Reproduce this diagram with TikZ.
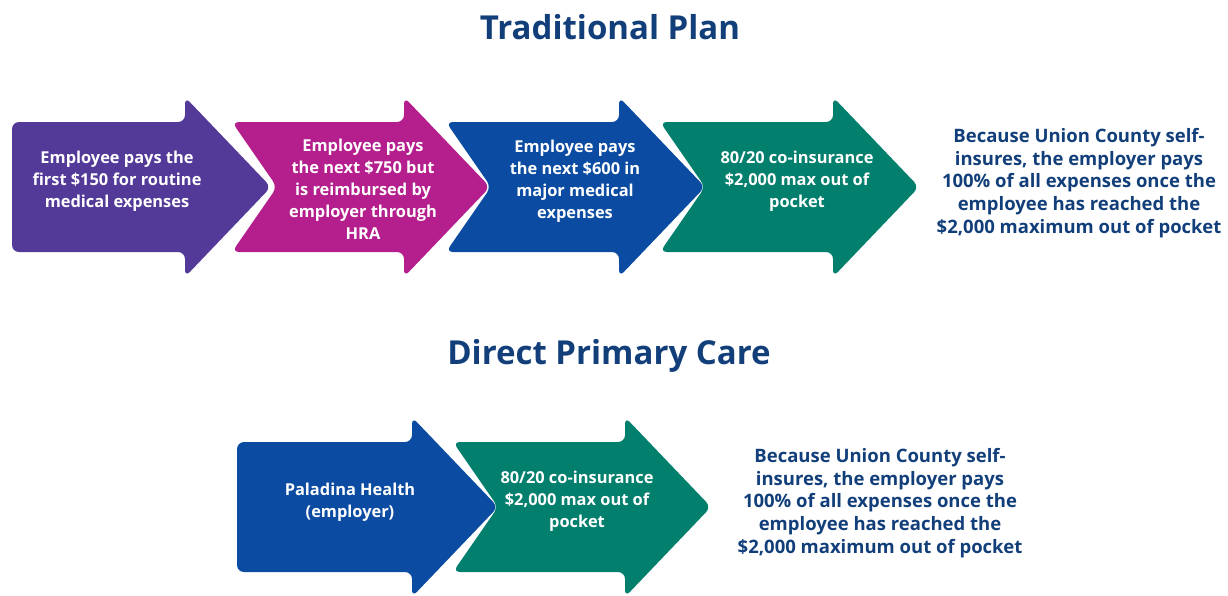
\documentclass[tikz,border=0pt]{standalone}
\usepackage{fontspec}
\setmainfont{Open Sans}
\definecolor{cpurple}{HTML}{533A98}
\definecolor{cmagenta}{HTML}{B41F8D}
\definecolor{cblue}{HTML}{0B4CA2}
\definecolor{cgreen}{HTML}{037F6D}
\definecolor{cnavy}{HTML}{123F7A}
\tikzset{
  arrowshape/.style={rounded corners=7pt},
  boxtext/.style={text=white, align=center, font=\bfseries\fontsize{16.4}{22}\selectfont},
  sidetext/.style={text=cnavy, align=center, font=\bfseries\fontsize{18.5}{22.6}\selectfont},
  titletext/.style={text=cnavy, font=\bfseries\fontsize{33}{38}\selectfont},
}
% #1 x0, #2 centre y, #3 notch depth, #4 colour, #5 body length
\newcommand\flowarrow[5]{%
  \fill[#4, arrowshape] (#1,#2-65) -- ({#1+#5},#2-65) -- ({#1+#5},#2-90)
    -- ({#1+#5+86},#2) -- ({#1+#5},#2+90) -- ({#1+#5},#2+65)
    -- (#1,#2+65) -- ({#1+#3},#2) -- cycle;}
\begin{document}
\begin{tikzpicture}[x=1pt,y=-1pt]
\useasboundingbox (0,0) rectangle (1228,595);
\clip (0,0) rectangle (1228,595);
% titles
\node[titletext] (t1) at (610,27) {Traditional Plan};
\node[titletext] (t2) at (609,356) {Direct Primary Care};
% top row
\flowarrow{12}{187}{0}{cpurple}{173}
\flowarrow{232}{187}{45}{cmagenta}{172}
\flowarrow{446}{187}{45}{cblue}{173}
\flowarrow{660}{187}{45}{cgreen}{173}
\node[boxtext] (a1) at (117,181) {Employee pays the\\first \$150 for routine\\medical expenses};
\node[boxtext] (a2) at (363,189.5) {Employee pays\\the next \$750 but\\is reimbursed by\\employer through\\HRA};
\node[boxtext] (a3) at (575,181) {Employee pays\\the next \$600 in\\major medical\\expenses};
\node[boxtext] (a4) at (797,181) {80/20 co-insurance\\\$2,000 max out of\\pocket};
\node[sidetext] (r1) at (1079,183) {Because Union County self-\\insures, the employer pays\\100\% of all expenses once the\\employee has reached the\\\$2,000 maximum out of pocket};
% bottom row
\flowarrow{237}{507}{0}{cblue}{175}
\flowarrow{453}{507}{45}{cgreen}{172}
\node[boxtext] (b1) at (350,502) {Paladina Health\\(employer)};
\node[boxtext] (b2) at (577,501) {80/20 co-insurance\\\$2,000 max out of\\pocket};
\node[sidetext] (r2) at (880,503) {Because Union County self-\\insures, the employer pays\\100\% of all expenses once the\\employee has reached the\\\$2,000 maximum out of pocket};
\end{tikzpicture}
\end{document}
